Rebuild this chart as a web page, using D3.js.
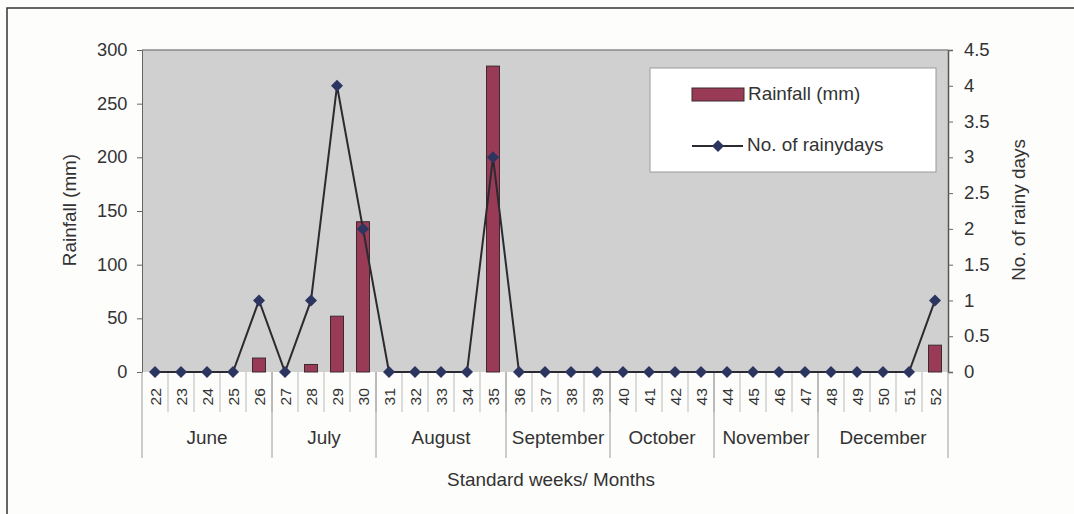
<!DOCTYPE html>
<html>
<head>
<meta charset="utf-8">
<script src="https://cdn.jsdelivr.net/npm/d3@7"></script>
<style>
  html, body { margin: 0; padding: 0; background: #fdfdfc; }
  svg { display: block; font-family: Arial, "Liberation Sans", sans-serif; }
</style>
</head>
<body>
<svg id="chart" width="1074" height="514"></svg>
<script>
// Standard weeks 22–52 with weekly rainfall and number of rainy days
const weeks = d3.range(22, 53).map(String);
const rainfall = [0,0,0,0,13,0,7,52,140,0,0,0,0,285,0,0,0,0,0,0,0,0,0,0,0,0,0,0,0,0,25];
const rainyDays = [0,0,0,0,1,0,1,4,2,0,0,0,0,3,0,0,0,0,0,0,0,0,0,0,0,0,0,0,0,0,1];
const months = ["June","July","August","September","October","November","December"];
const monthWeekCounts = [5,4,5,4,4,4,5];
const rainTicks = [0,50,100,150,200,250,300];
const dayTicks = [0,0.5,1,1.5,2,2.5,3,3.5,4,4.5];

const svg = d3.select("#chart");
const m = { left: 142, right: 948, top: 50, bottom: 372 };
const ink = "#333";
const SX = 1.08; // slightly wide lettering

const x = d3.scaleBand().domain(weeks).range([m.left, m.right]);
const yL = d3.scaleLinear().domain([0, 300]).range([m.bottom, m.top]);
const yR = d3.scaleLinear().domain([0, 4.5]).range([m.bottom, m.top]);
const cx = w => x(w) + x.bandwidth() / 2;

// text placed at (tx, ty), optionally rotated, stretched along its baseline
function label(g, tx, ty, str, size, anchor, rot) {
  return g.append("text")
    .attr("transform", `translate(${tx},${ty})${rot ? ` rotate(${rot})` : ""} scale(${SX},1)`)
    .attr("text-anchor", anchor).attr("font-size", size).attr("fill", ink).text(str);
}

// outer frame
svg.append("path").attr("d", "M7,514 V8 H1074").attr("fill", "none").attr("stroke", "#333").attr("stroke-width", 1.5);

// plot background
svg.append("rect").attr("x", m.left).attr("y", m.top)
  .attr("width", m.right - m.left).attr("height", m.bottom - m.top)
  .attr("fill", "#d0d0d0");
svg.append("line").attr("x1", m.left).attr("x2", m.right).attr("y1", m.top).attr("y2", m.top)
  .attr("stroke", "#8a8a8a").attr("stroke-width", 1.5);

// left axis
const axL = svg.append("g").attr("transform", `translate(${m.left},0)`)
  .call(d3.axisLeft(yL).tickValues(rainTicks).tickSize(5).tickPadding(9));
axL.select(".domain").attr("stroke", "#666");
axL.selectAll(".tick line").attr("stroke", "#666");
axL.selectAll("text").attr("font-size", 17.5).attr("fill", ink).attr("transform", "scale(1.04,1)");

// right axis
const axR = svg.append("g").attr("transform", `translate(${m.right},0)`)
  .call(d3.axisRight(yR).tickValues(dayTicks).tickFormat(d3.format("")).tickSize(5).tickPadding(10));
axR.select(".domain").attr("stroke", "#555").attr("stroke-width", 1.5);
axR.selectAll(".tick line").attr("stroke", "#666");
axR.selectAll("text").attr("font-size", 17.5).attr("fill", ink).attr("transform", "scale(1.06,1)");

// axis titles
label(svg, 76, 210, "Rainfall (mm)", 17.5, "middle", -90);
label(svg, 1025, 210, "No. of rainy days", 17.5, "middle", -90);
label(svg, 551, 486, "Standard weeks/ Months", 17.5, "middle");

// week label band
const weekBand = 412, monthBand = 458;
svg.append("g").selectAll("line").data(weeks.slice(1)).join("line")
  .attr("x1", d => x(d)).attr("x2", d => x(d))
  .attr("y1", m.bottom).attr("y2", weekBand)
  .attr("stroke", "#cfcfcf").attr("stroke-width", 1.5);
const wl = svg.append("g");
weeks.forEach(w => label(wl, cx(w) + 6, 388, w, 14.5, "end", -90));

// month separators and labels
let acc = 0;
const monthStarts = monthWeekCounts.map(c => { const s = acc; acc += c; return s; });
const boundaries = monthStarts.concat([weeks.length]);
const bx = i => i < weeks.length ? x(weeks[i]) : m.right;
svg.append("g").selectAll("line").data(boundaries).join("line")
  .attr("x1", bx).attr("x2", bx)
  .attr("y1", m.bottom).attr("y2", monthBand)
  .attr("stroke", "#9a9a9a").attr("stroke-width", 1);
const ml = svg.append("g");
months.forEach((mo, i) => {
  const a = x(weeks[monthStarts[i]]);
  const b = x(weeks[monthStarts[i] + monthWeekCounts[i] - 1]) + x.bandwidth();
  label(ml, (a + b) / 2, 444, mo, 17.5, "middle");
});

// rainfall bars
const barW = 13;
svg.append("g").selectAll("rect").data(weeks.filter((w, i) => rainfall[i] > 0)).join("rect")
  .attr("x", w => cx(w) - barW / 2)
  .attr("width", barW)
  .attr("y", w => yL(rainfall[weeks.indexOf(w)]))
  .attr("height", w => yL(0) - yL(rainfall[weeks.indexOf(w)]))
  .attr("fill", "#993a57").attr("stroke", "#3b2a30").attr("stroke-width", 1);

// rainy days line with diamond markers
const line = d3.line().x((d, i) => cx(weeks[i])).y(d => yR(d));
svg.append("path").datum(rainyDays).attr("d", line)
  .attr("fill", "none").attr("stroke", "#2a2a30").attr("stroke-width", 2);
const diamond = d3.symbol().type(d3.symbolSquare).size(72);
svg.append("g").selectAll("path").data(rainyDays).join("path")
  .attr("transform", (d, i) => `translate(${cx(weeks[i])},${yR(d)}) rotate(45)`)
  .attr("d", diamond).attr("fill", "#2c3460");

// legend
const lg = svg.append("g");
lg.append("rect").attr("x", 650).attr("y", 68).attr("width", 286).attr("height", 104)
  .attr("fill", "#ffffff").attr("stroke", "#999").attr("stroke-width", 1);
lg.append("rect").attr("x", 692).attr("y", 88).attr("width", 52).attr("height", 13)
  .attr("fill", "#993a57").attr("stroke", "#3b2a30");
label(lg, 748, 100, "Rainfall (mm)", 17.5, "start");
lg.append("line").attr("x1", 692).attr("x2", 743).attr("y1", 146).attr("y2", 146)
  .attr("stroke", "#2a2a30").attr("stroke-width", 2);
lg.append("path").attr("transform", "translate(718,146) rotate(45)").attr("d", diamond).attr("fill", "#2c3460");
label(lg, 747, 151, "No. of rainydays", 17.5, "start");
</script>
</body>
</html>
